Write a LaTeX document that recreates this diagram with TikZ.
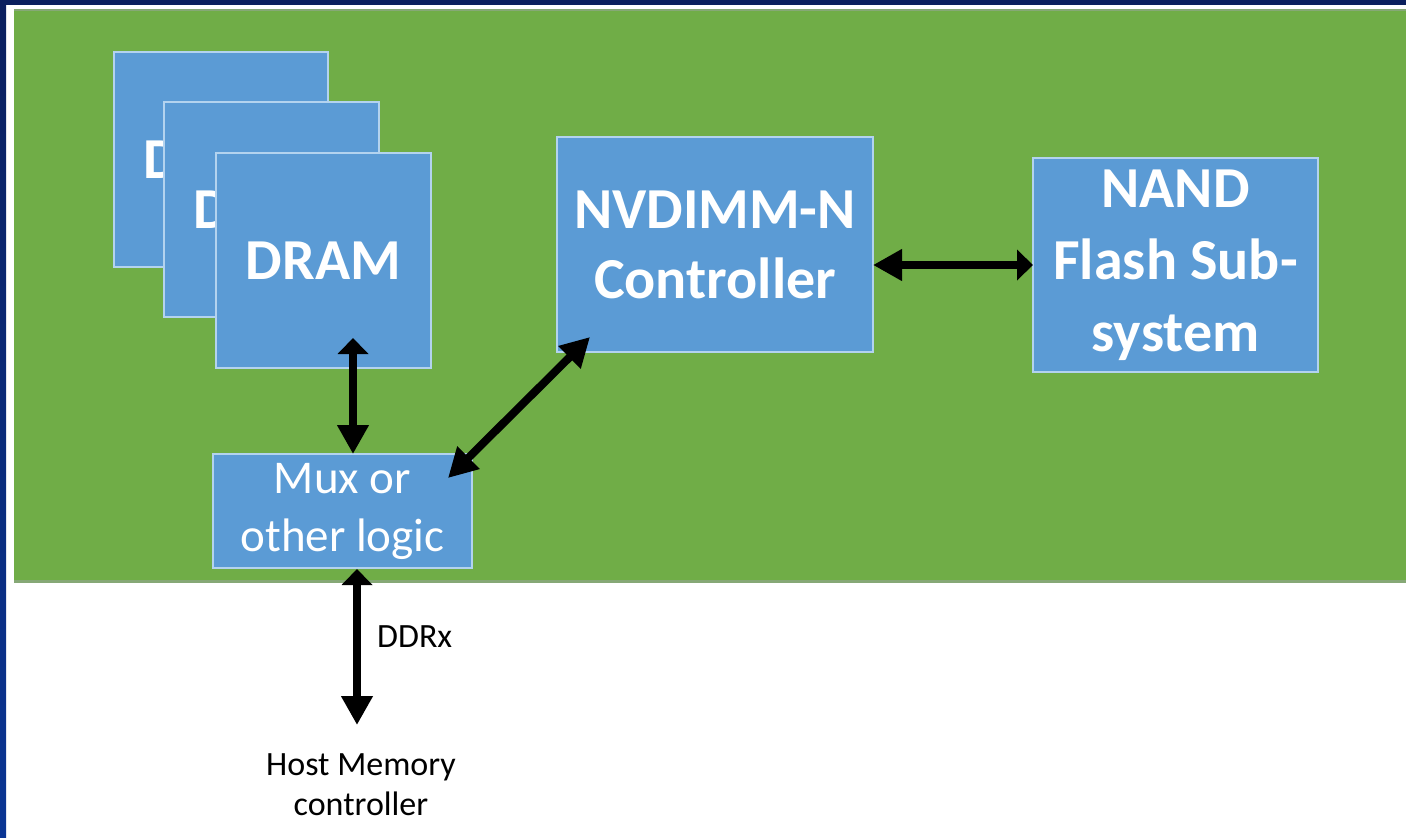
\documentclass[tikz,border=0pt]{standalone}
\usepackage{fontspec}
\setmainfont{Carlito}
\usetikzlibrary{arrows.meta,calc}

\definecolor{panelgreen}{HTML}{70AD47}
\definecolor{panelshade}{HTML}{86A876}
\definecolor{boxblue}{HTML}{5B9BD5}
\definecolor{boxedge}{HTML}{B3D3EF}
\definecolor{navytop}{HTML}{0B1F5E}
\definecolor{navyside}{HTML}{0A3594}

\tikzset{
  block/.style={rectangle, fill=boxblue, draw=boxedge, line width=1.2pt,
    inner sep=0pt, outer sep=0pt, text=white, align=center},
  bigtext/.style={font=\fontsize{58}{70}\selectfont\bfseries},
  tallspace/.style={font=\fontsize{58}{72}\selectfont\bfseries},
  midtext/.style={font=\fontsize{47}{58}\selectfont},
  smalltext/.style={font=\fontsize{34}{40}\selectfont, text=black, align=center, inner sep=0pt},
  link/.style={line width=8pt, black},
  longtip/.tip={Triangle[length=29pt,width=30pt]},
  shorttip/.tip={Triangle[length=16pt,width=30pt]},
}

\begin{document}
\begin{tikzpicture}[x=1pt,y=-1pt]
  \useasboundingbox (0,0) rectangle (1406,838);
  \fill[white] (0,0) rectangle (1406,838);

  % frame edges
  \fill[navytop] (0,0) rectangle (1406,5);
  \shade[top color=navytop, bottom color=navyside] (0,0) rectangle (6,838);

  % green module panel with a soft lower edge
  \fill[panelshade] (14,9) rectangle (1406,583);
  \fill[panelgreen] (14,10.5) rectangle (1406,580);

  % stacked DRAM devices
  \node[block, bigtext, minimum width=214pt, minimum height=215pt] (d1) at (221,159.5) {DRAM};
  \node[block, bigtext, minimum width=215pt, minimum height=215pt] (d2) at (271.5,209.5) {DRAM};
  \node[block, bigtext, minimum width=215pt, minimum height=215pt] (d3) at (323.5,260.5) {DRAM};

  % controller, flash and mux
  \node[block, bigtext, minimum width=316pt, minimum height=215pt] (nv) at (715,244.5) {NVDIMM-N\\Controller};
  \node[block, tallspace, minimum width=285pt, minimum height=214pt] (nand) at (1175.5,265) {NAND\\Flash Sub-\\system};
  \node[block, midtext, minimum width=259pt, minimum height=114pt] (mux) at (342.5,511) {Mux or\\other logic};

  % host side labels
  \node[smalltext, anchor=north] (host) at (361,753) {Host Memory\\controller};
  \node[smalltext, anchor=south west] (ddr) at (377,648) {DDRx};

  % connections
  \draw[link, {shorttip}-{longtip}] ([xshift=29.5pt,yshift=30pt]d3.south) -- ([xshift=10.5pt]mux.north);
  \draw[link, {longtip}-{longtip}] ([xshift=-24pt,yshift=-24pt]mux.north east) -- ([xshift=33pt,yshift=15pt]nv.south west);
  \draw[link, {longtip}-{shorttip}] (nv.east |- nand.west) -- (nand.west);
  \draw[link, {shorttip}-{longtip}] ([xshift=14.5pt,yshift=-1pt]mux.south) -- ([xshift=-4pt,yshift=28pt]host.north);
\end{tikzpicture}
\end{document}
